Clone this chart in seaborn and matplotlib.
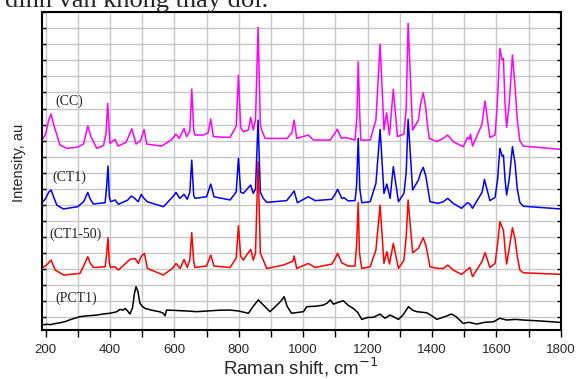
import pandas as pd
import matplotlib.pyplot as plt
from matplotlib.ticker import MultipleLocator
import seaborn as sns

# Raman spectra (wavenumber, stacked intensity)
cc_x = [188, 200, 210, 217, 225, 245, 266, 300, 318, 331, 341, 359, 380, 388, 393, 400, 416, 425,
        450, 468, 481, 495, 506, 514, 560, 590, 605, 615, 630, 638, 648, 654, 660, 664, 690, 705,
        713, 721, 773, 792, 799, 806, 814, 830, 837, 845, 852, 860, 867, 871, 882, 950, 965, 972,
        980, 1016, 1032, 1084, 1100, 1106, 1119, 1130, 1161, 1167, 1171, 1176, 1179, 1208, 1226,
        1239, 1251, 1259, 1268, 1280, 1293, 1313, 1320, 1326, 1340, 1358, 1365, 1373, 1381, 1387,
        1392, 1415, 1435, 1449, 1466, 1497, 1510, 1516, 1520, 1526, 1555, 1565, 1580, 1596, 1603,
        1611, 1618, 1622, 1627, 1632, 1640, 1650, 1658, 1665, 1673, 1684, 1800]
cc_y = [11.0, 11.4, 12.3, 12.66, 12.0, 10.73, 10.52, 10.6, 10.8, 11.91, 11.25, 10.52, 10.7, 11.5,
        13.32, 10.83, 11.08, 10.66, 10.9, 11.74, 10.79, 11.0, 11.70, 10.79, 10.66, 11.04, 11.41,
        11.14, 11.76, 11.25, 11.6, 14.21, 11.7, 11.35, 11.35, 11.5, 12.35, 11.25, 11.20, 11.9,
        15.07, 11.8, 11.56, 11.66, 12.45, 11.66, 12.28, 18.05, 12.0, 11.66, 11.14, 11.14, 11.5,
        12.28, 11.14, 11.35, 11.04, 11.04, 11.5, 11.72, 11.14, 11.2, 11.04, 12.5, 15.91, 12.5,
        11.04, 11.04, 12.28, 17.01, 11.66, 12.74, 11.35, 14.19, 11.25, 11.41, 13.0, 18.30, 11.66,
        12.28, 13.3, 13.98, 13.0, 11.8, 11.14, 10.94, 11.14, 11.35, 10.94, 10.62, 11.2, 11.08,
        11.4, 10.66, 12.0, 13.46, 11.20, 11.35, 13.3, 16.74, 16.02, 16.1, 13.3, 11.83, 13.3, 16.33,
        14.4, 12.3, 11.0, 10.66, 10.46]

ct1_x = [188, 200, 210, 217, 225, 235, 255, 300, 318, 331, 338, 348, 385, 389, 394, 398, 402, 416,
         426, 455, 466, 473, 488, 497, 506, 516, 566, 597, 605, 617, 630, 640, 648, 654, 660, 664,
         700, 713, 723, 773, 792, 799, 806, 814, 837, 845, 852, 860, 867, 876, 887, 949, 972, 982,
         1016, 1037, 1089, 1100, 1107, 1120, 1127, 1140, 1161, 1166, 1171, 1176, 1182, 1208, 1226,
         1239, 1251, 1260, 1270, 1280, 1296, 1313, 1320, 1326, 1340, 1358, 1365, 1373, 1381, 1394,
         1420, 1435, 1449, 1466, 1492, 1510, 1518, 1526, 1556, 1563, 1580, 1596, 1604, 1611, 1618,
         1622, 1627, 1632, 1640, 1650, 1658, 1665, 1673, 1684, 1800]
ct1_y = [7.1, 7.4, 7.8, 7.93, 7.5, 6.99, 6.75, 6.89, 7.2, 7.78, 7.4, 7.06, 7.14, 8.0, 9.42, 7.5,
         7.2, 7.31, 7.04, 7.3, 7.55, 7.47, 7.20, 7.66, 7.4, 7.2, 6.89, 7.55, 7.78, 7.41, 7.66, 7.35,
         7.8, 9.79, 7.6, 7.41, 7.51, 8.30, 7.51, 7.31, 7.8, 9.90, 7.8, 7.72, 8.24, 7.72, 8.0, 12.28,
         7.8, 7.41, 7.16, 7.27, 7.87, 7.14, 7.51, 7.27, 7.35, 7.7, 7.97, 7.41, 7.45, 7.25, 7.27, 8.2,
         11.14, 8.0, 7.14, 7.20, 8.34, 11.70, 7.72, 8.30, 7.41, 9.38, 7.20, 7.72, 9.0, 12.33, 7.93,
         8.55, 9.0, 9.34, 8.8, 7.20, 7.10, 7.20, 7.41, 7.10, 6.79, 7.14, 7.06, 6.79, 7.8, 8.59, 7.27,
         7.47, 8.6, 10.52, 10.04, 10.1, 8.6, 7.62, 8.6, 10.62, 9.6, 8.0, 7.16, 6.92, 6.75]

ct150_x = [188, 205, 217, 230, 256, 307, 318, 331, 338, 349, 385, 389, 394, 398, 402, 416, 426, 462,
           478, 488, 497, 507, 516, 566, 597, 605, 618, 630, 640, 648, 654, 660, 664, 700, 713, 723,
           773, 792, 799, 806, 814, 837, 845, 852, 860, 867, 876, 887, 939, 968, 972, 980, 1016, 1037,
           1089, 1100, 1107, 1120, 1140, 1161, 1166, 1171, 1175, 1182, 1208, 1226, 1239, 1251, 1260,
           1268, 1280, 1296, 1313, 1320, 1326, 1340, 1358, 1373, 1381, 1394, 1420, 1435, 1449, 1466,
           1492, 1518, 1526, 1556, 1565, 1580, 1596, 1604, 1611, 1618, 1622, 1627, 1632, 1640, 1650,
           1658, 1665, 1673, 1684, 1800]
ct150_y = [3.05, 3.3, 3.57, 2.95, 2.64, 2.74, 3.2, 3.78, 3.4, 3.11, 3.15, 3.8, 4.96, 3.4, 3.11, 3.15,
           2.95, 3.61, 3.67, 3.36, 3.8, 3.99, 3.05, 2.64, 3.11, 3.36, 3.05, 3.61, 3.11, 3.6, 5.28, 3.5,
           3.11, 3.20, 3.88, 3.20, 3.11, 3.7, 5.71, 3.8, 3.57, 4.24, 3.57, 4.0, 9.69, 4.0, 3.57, 3.05,
           3.26, 3.5, 3.82, 3.05, 3.36, 3.11, 3.32, 3.7, 3.99, 3.40, 3.20, 3.20, 4.5, 7.14, 4.0, 3.05,
           3.15, 4.20, 6.99, 3.36, 4.09, 3.32, 4.61, 3.05, 3.57, 5.0, 7.31, 4.03, 4.30, 4.96, 4.5,
           3.15, 3.05, 3.05, 3.26, 2.95, 2.68, 3.11, 2.54, 3.5, 4.03, 3.11, 3.36, 4.6, 5.96, 5.6, 5.44,
           4.3, 3.32, 4.3, 5.58, 4.9, 3.8, 2.95, 2.78, 2.68]

pct1_x = [188, 205, 215, 230, 245, 262, 275, 290, 307, 330, 359, 380, 400, 420, 431, 440, 447, 455,
          462, 470, 476, 481, 487, 493, 500, 509, 530, 555, 566, 571, 576, 600, 640, 669, 700, 740,
          773, 800, 830, 845, 861, 875, 897, 915, 930, 941, 950, 964, 1001, 1011, 1040, 1063, 1075,
          1084, 1094, 1110, 1125, 1140, 1156, 1170, 1182, 1200, 1218, 1239, 1254, 1270, 1285, 1296,
          1310, 1327, 1340, 1353, 1384, 1400, 1415, 1440, 1461, 1475, 1497, 1515, 1539, 1565, 1591,
          1611, 1632, 1660, 1684, 1720, 1760, 1800]
pct1_y = [-0.47, -0.42, -0.45, -0.38, -0.33, -0.25, -0.15, -0.05, 0.05, 0.10, 0.15, 0.22, 0.26, 0.35,
          0.50, 0.45, 0.56, 0.40, 0.21, 0.6, 1.5, 1.91, 1.6, 0.88, 0.70, 0.56, 0.45, 0.35, 0.26, 0.1,
          0.46, 0.44, 0.40, 0.36, 0.40, 0.45, 0.46, 0.40, 0.26, 0.70, 1.09, 0.80, 0.36, 0.70, 1.0,
          1.29, 0.70, 0.26, 0.36, 0.67, 0.70, 0.77, 0.90, 1.09, 0.83, 0.95, 1.04, 0.75, 0.56, 0.30,
          -0.12, 0.0, 0.01, 0.21, -0.05, 0.15, 0.0, -0.12, 0.15, 0.67, 0.45, 0.36, 0.29, 0.10, -0.12,
          0.05, 0.21, 0.05, -0.37, -0.30, -0.41, -0.30, -0.27, -0.05, -0.16, -0.12, -0.16, -0.20,
          -0.25, -0.31]

muestras = ['(CC)', '(CT1)', '(CT1-50)', '(PCT1)']
colores = ['#ff00ff', '#0000ff', '#ff0000', '#000000']
etiqueta_x = [273, 273, 292, 294]
etiqueta_y = [13.47, 8.72, 5.19, 1.19]

df = pd.concat([
    pd.DataFrame({'shift': cc_x, 'intensity': cc_y, 'muestra': '(CC)'}),
    pd.DataFrame({'shift': ct1_x, 'intensity': ct1_y, 'muestra': '(CT1)'}),
    pd.DataFrame({'shift': ct150_x, 'intensity': ct150_y, 'muestra': '(CT1-50)'}),
    pd.DataFrame({'shift': pct1_x, 'intensity': pct1_y, 'muestra': '(PCT1)'}),
], ignore_index=True)

sns.set_theme(style="whitegrid")
plt.rcParams['font.family'] = ['Liberation Sans', 'DejaVu Sans']

fig = plt.figure(figsize=(5.77, 3.79), dpi=100)
ax = fig.add_axes([0.0723, 0.1293, 0.8995, 0.8401])

sns.lineplot(data=df, x='shift', y='intensity', hue='muestra', hue_order=muestras,
             palette=dict(zip(muestras, colores)), estimator=None, sort=False,
             linewidth=1.1, legend=False, ax=ax)

for nombre, xx, yy in zip(muestras, etiqueta_x, etiqueta_y):
    ax.text(xx, yy, nombre, ha='center', va='center', fontsize=10,
            family='Liberation Serif', color='#222222')

ax.set_xlim(188, 1800)
ax.set_ylim(-0.78, 19.03)
ax.xaxis.set_major_locator(MultipleLocator(200))
ax.xaxis.set_minor_locator(MultipleLocator(100))
ax.yaxis.set_major_locator(MultipleLocator(1))
ax.set_yticklabels([])
ax.grid(which='both', color='#c8c8c8', linewidth=1.0)
ax.set_facecolor('white')
for s in ax.spines.values():
    s.set_color('black')
    s.set_linewidth(1.5)

ax.tick_params(axis='x', which='both', bottom=True, direction='out', length=5, width=1,
               color='black', labelsize=9.5, pad=5)
ax.tick_params(axis='y', which='both', left=True, right=True, direction='in', length=3,
               width=1, color='black')

ax.set_xlabel('Raman shift, cm$^{-1}$', fontsize=13.5, labelpad=0)
ax.set_ylabel('Intensity, au', fontsize=10.5)
ax.yaxis.set_label_coords(-0.03, 0.524)

fig.text(0.0087, 1 - 7 / 379, 'đỉnh vẫn không thay đổi.', fontsize=19,
         family='Liberation Serif', va='baseline', ha='left')

plt.savefig('out.png', dpi=100)
